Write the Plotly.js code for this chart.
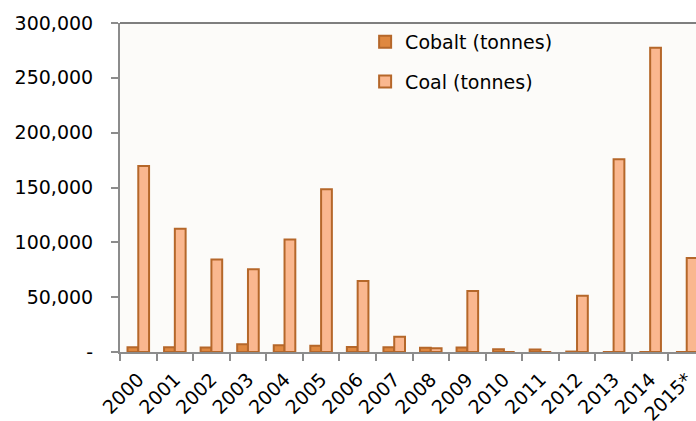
<!DOCTYPE html>
<html>
<head>
<meta charset="utf-8">
<script src="https://cdn.plot.ly/plotly-3.0.1.min.js"></script>
<style>
html,body{margin:0;padding:0;overflow:hidden;background:#fff;}
#chart{width:710px;height:421px;}
</style>
</head>
<body>
<div id="chart"></div>
<script>
var years = ["2000","2001","2002","2003","2004","2005","2006","2007","2008","2009","2010","2011","2012","2013","2014","2015*"];
var cobalt = [4300,4300,4000,7000,6100,5700,4500,4300,3900,4000,2400,2300,400,0,0,0];
var coal = [169500,112500,84300,75500,102500,148400,64800,13900,3400,55700,0,0,51200,175700,277500,85700];
var yTickVals = [0,50000,100000,150000,200000,250000,300000];
var yTickText = ["-","50,000","100,000","150,000","200,000","250,000","300,000"];

var font = "DejaVu Sans, sans-serif";
var outline = "#b5672a";

var data = [
  {type:"bar", name:"Cobalt (tonnes)", x:years, y:cobalt, legendgroup:"a",
   marker:{color:"#df8840", line:{color:outline, width:2}}},
  {type:"bar", name:"Coal (tonnes)", x:years, y:coal, legendgroup:"b",
   marker:{color:"#fab78f", line:{color:outline, width:2}}}
];

var layout = {
  width:710, height:421,
  margin:{l:120, r:5, t:23, b:69},
  paper_bgcolor:"#ffffff",
  plot_bgcolor:"#fcfbf9",
  barmode:"group",
  bargap:0.41,
  bargroupgap:0,
  font:{family:font, size:19, color:"#000"},
  showlegend:true,
  legend:{x:0.419, y:1.0, xanchor:"left", yanchor:"top", bgcolor:"rgba(0,0,0,0)",
          font:{family:font, size:19, color:"#000"}, traceorder:"grouped", tracegroupgap:12},
  xaxis:{type:"category", tickangle:-45, showgrid:false, zeroline:false,
         showline:true, linecolor:"#8c8c8c", linewidth:2,
         ticks:"outside", ticklen:7, tickwidth:2, tickcolor:"#8c8c8c", tickson:"boundaries",
         ticklabelstandoff:7,
         range:[-0.5,15.5], tickfont:{family:font, size:19, color:"#000"}},
  yaxis:{range:[0,300000], tickvals:yTickVals, ticktext:yTickText,
         showgrid:false, zeroline:false, showline:true, linecolor:"#8c8c8c", linewidth:2,
         ticks:"outside", ticklen:7, tickwidth:2, tickcolor:"#8c8c8c",
         ticklabelstandoff:14, tickfont:{family:font, size:19, color:"#000"}},
  shapes:[{type:"line", xref:"paper", yref:"paper", x0:0, x1:1, y0:1, y1:1,
           line:{color:"#555555", width:1.5}}]
};

Plotly.newPlot("chart", data, layout, {displayModeBar:false, staticPlot:true});
</script>
</body>
</html>
